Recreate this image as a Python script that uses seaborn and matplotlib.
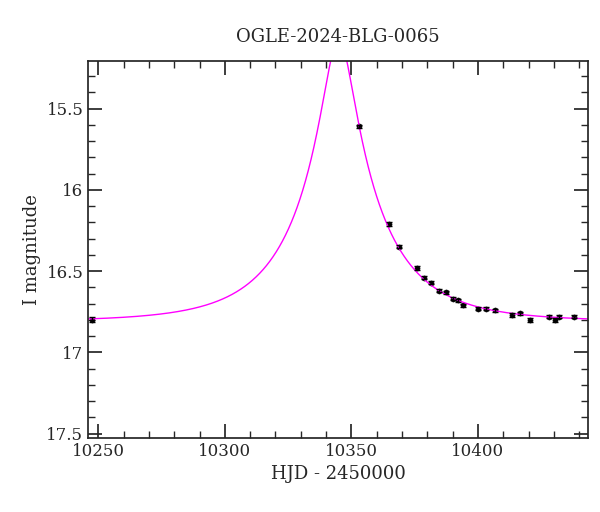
import numpy as np
import matplotlib
matplotlib.use("Agg")
import matplotlib.pyplot as plt
import seaborn as sns
from matplotlib.ticker import MultipleLocator

hjd = [10247.6, 10353.0, 10364.9, 10368.8, 10375.9, 10378.7, 10381.5, 10384.6, 10387.4,
       10390.2, 10392.1, 10394.1, 10400.0, 10403.2, 10406.7, 10413.4, 10416.6, 10420.5,
       10428.0, 10430.4, 10432.0, 10437.9]
mag = [16.80, 15.61, 16.21, 16.35, 16.48, 16.54, 16.57, 16.62, 16.63,
       16.67, 16.68, 16.71, 16.73, 16.73, 16.74, 16.77, 16.76, 16.80,
       16.78, 16.80, 16.78, 16.78]
err = [0.015] + [0.01] * 21

# shape of the model curve (left wing and where it leaves the frame)
curve_t = [10300.0, 10332.0, 10340.8, 10347.5]
curve_m = [16.63, 16.00, 15.21, 15.21]


def model(t, t0, tE, u0, fs, base):
    u = np.sqrt(u0**2 + ((np.asarray(t) - t0) / tE) ** 2)
    A = (u**2 + 2) / (u * np.sqrt(u**2 + 4))
    return base - 2.5 * np.log10(fs * A + 1 - fs)


ft = np.array(hjd + curve_t)
fm = np.array(mag + curve_m)
best = None
for t0 in np.arange(10341.0, 10348.01, 0.5):
    for tE in np.arange(20, 80.1, 2):
        for u0 in np.arange(0.05, 0.5, 0.02):
            for fs in np.arange(0.3, 1.01, 0.1):
                r = np.sum((model(ft, t0, tE, u0, fs, 16.81) - fm) ** 2)
                if best is None or r < best[0]:
                    best = (r, t0, tE, u0, fs)
_, t0, tE, u0, fs = best

sns.set_theme(style="ticks")
plt.rcParams["font.family"] = "DejaVu Serif"
fig, ax = plt.subplots(figsize=(6, 5.12), dpi=100)
fig.subplots_adjust(left=0.147, right=0.98, bottom=0.145, top=0.88)

t = np.linspace(10200, 10500, 3000)
sns.lineplot(x=t, y=model(t, t0, tE, u0, fs, 16.81), ax=ax, color="magenta", lw=1)
ax.errorbar(hjd, mag, yerr=err, fmt="none", ecolor="black", elinewidth=1, capsize=2)
sns.scatterplot(x=hjd, y=mag, ax=ax, color="black", s=14, marker="o", edgecolor="black")

ax.set_xlim(10246, 10443.5)
ax.set_ylim(17.525, 15.21)
ax.xaxis.set_minor_locator(MultipleLocator(10))
ax.yaxis.set_minor_locator(MultipleLocator(0.1))
ax.set_xticks([10250, 10300, 10350, 10400])
ax.set_xticklabels(["10250", "10300", "10350", "10400"])
ax.set_yticks([15.5, 16, 16.5, 17, 17.5])
ax.set_yticklabels(["15.5", "16", "16.5", "17", "17.5"])
ax.tick_params(which="both", direction="in", top=True, right=True, labelsize=12)
ax.tick_params(which="major", length=10)
ax.tick_params(which="minor", length=5)
ax.set_xlabel("HJD - 2450000", fontsize=13)
ax.set_ylabel("I magnitude", fontsize=13)
ax.set_title("OGLE-2024-BLG-0065", fontsize=13, pad=14)
fig.savefig("out.png")
